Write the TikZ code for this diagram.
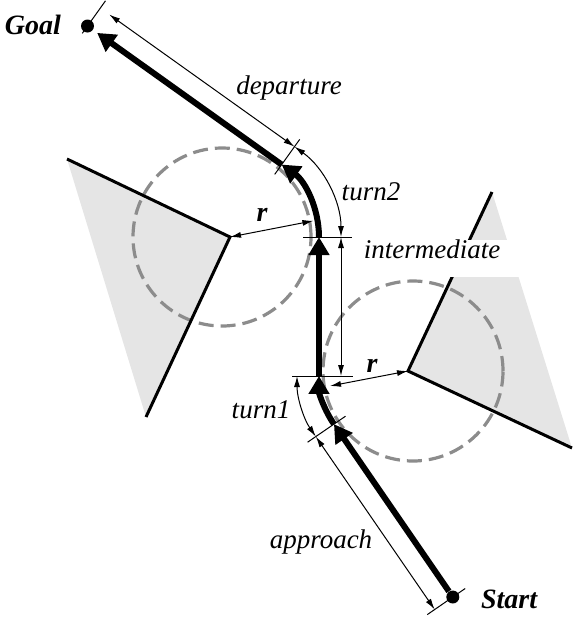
\documentclass[tikz,border=0pt]{standalone}
\usepackage{fontspec}
\setmainfont{Liberation Serif}
\usetikzlibrary{arrows.meta,calc}
\tikzset{
  obst/.style={fill=gray!20},
  obstedge/.style={line width=1.5pt},
  clearance/.style={gray!90, line width=1.6pt, dash pattern=on 7.5pt off 3.5pt},
  leg/.style={line width=3pt, -{Triangle[length=9pt,width=10pt]}},
  dimline/.style={line width=0.5pt, {Latex[length=5.5pt,width=3pt]}-{Latex[length=5.5pt,width=3pt]}},
  tickline/.style={line width=0.5pt},
  lbl/.style={font=\fontsize{13.5}{16}\selectfont\itshape},
  blbl/.style={font=\fontsize{14}{16}\selectfont\bfseries\itshape},
  waypt/.style={circle, fill, inner sep=0pt, minimum size=6.5pt}
}
\begin{document}
\begin{tikzpicture}[x=0.5pt, y=-0.5pt]
  \useasboundingbox (0,0) rectangle (578,617);
  % obstacles and their clearance circles
  \coordinate (cL) at (230,237);
  \coordinate (cR) at (408,371);
  \fill[obst] (67,159) -- (cL) -- (146,417) -- cycle;
  \fill[obst] (492,192) -- (cR) -- (572,448) -- cycle;
  \draw[clearance] (222,237) circle[radius=44.5pt];
  \draw[clearance] (413,371) circle[radius=45pt];
  \draw[obstedge] (67,159) -- (cL) -- (146,417);
  \draw[obstedge] (492,192) -- (cR) -- (572,448);
  % the flight path
  \node[waypt] (start) at (452.8,597) {};
  \node[waypt] (goal) at (87.5,26) {};
  \coordinate (t1) at (333.95,424.1);
  \coordinate (i0) at (319,376);
  \coordinate (i1) at (319,237);
  \coordinate (t2) at (281.7,164.6);
  \draw[leg] (start) -- (t1);
  \draw[leg] (t1) arc[start angle=214.5, end angle=180, radius=42.5pt];
  \draw[leg] (i0) -- (i1);
  \draw[leg] (i1) arc[start angle=0, end angle=54.5, radius=44.5pt];
  \draw[leg, shorten >=2.5pt] (t2) -- (goal);
  % ticks
  \draw[tickline] (82.3,33.3) -- (105.5,0.8);
  \draw[tickline] (274.7,174.4) -- (299.7,139.4);
  \draw[tickline] ($(i1)+(-16,0)$) -- ($(i1)+(33,0)$);
  \draw[tickline] ($(i0)+(-27,0)$) -- ($(i0)+(34,0)$);
  \draw[tickline] (345.5,416.2) -- (307.6,442.2);
  \draw[tickline] (465.2,588.5) -- (427.3,614.6);
  % dimensions
  \draw[dimline] (109.2,14.5) -- (294.5,146.7);
  \draw[dimline] (341,237) arc[start angle=0, end angle=54.5, radius=55.5pt];
  \draw[dimline] (341,237) -- (341,376);
  \draw[dimline] (297,376) arc[start angle=180, end angle=214.5, radius=53.5pt];
  \draw[dimline] (315.8,436.6) -- (434.7,609.5);
  \coordinate (pL) at (313.4,220.8);
  \coordinate (pR) at (330,386);
  \draw[dimline] (cL) -- (pL);
  \draw[dimline] (cR) -- (pR);
  % labels
  \node[blbl, anchor=base east] (goallbl) at (68,34) {Goal};
  \node[blbl, anchor=base west] (startlbl) at (474,608) {Start};
  \node[lbl] (deplbl) at (289,88) {departure};
  \node[lbl] (turn2lbl) at (371,192) {turn2};
  \node[lbl, fill=white, anchor=base, minimum width=87pt, text height=9pt, text depth=9.5pt, inner ysep=0pt] (intlbl) at (432,258) {intermediate};
  \node[lbl] (turn1lbl) at (261,410) {turn1};
  \node[lbl] (applbl) at (321,542) {approach};
  \node[blbl] (rL) at (262,215) {r};
  \node[blbl] (rR) at (372,366) {r};
\end{tikzpicture}
\end{document}
